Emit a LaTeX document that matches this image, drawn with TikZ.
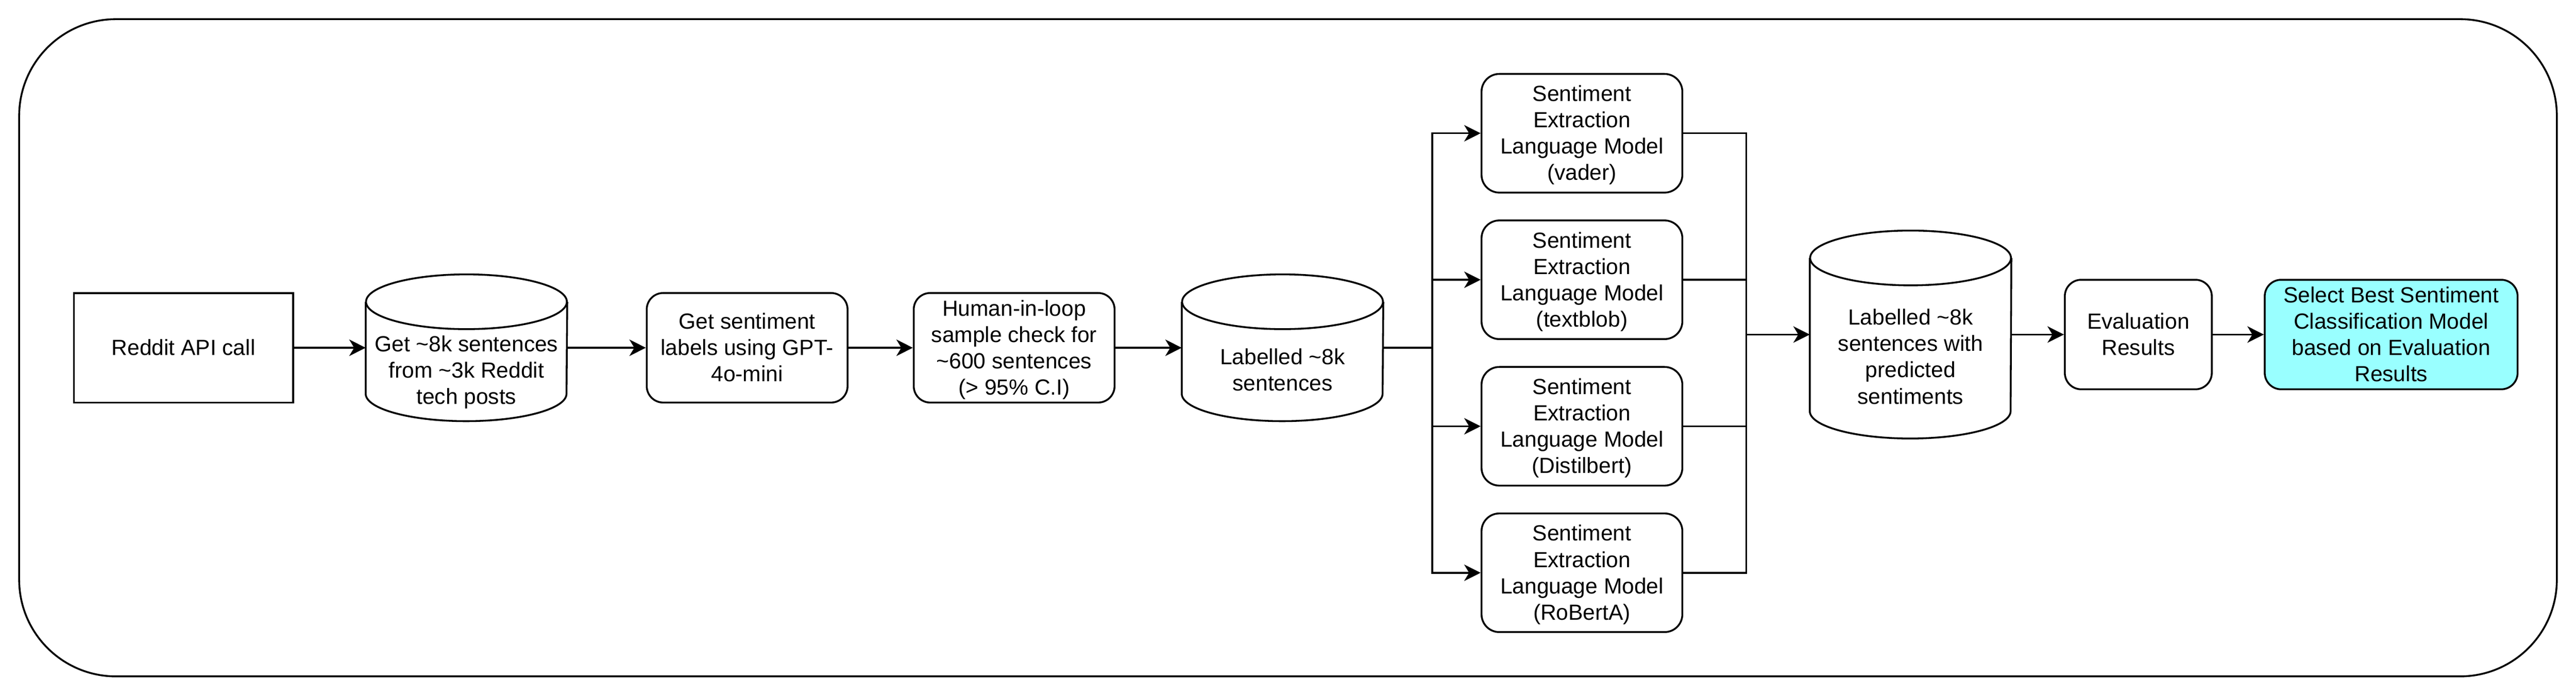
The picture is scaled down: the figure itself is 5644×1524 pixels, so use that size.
\documentclass[tikz,border=0pt]{standalone}
\usepackage{fontspec}
\setmainfont{Liberation Sans}
\usetikzlibrary{arrows.meta,calc}
\newcommand{\Ls}{\rule[-3.05pt]{0pt}{14.4pt}}
\newcommand{\drawcyl}[1]{%
  \draw[line width=1pt] ([yshift=-15pt]#1.north west) -- ([yshift=15pt]#1.south west)
    arc[start angle=180,end angle=360,x radius=55pt,y radius=15pt]
    -- ([yshift=-15pt]#1.north east);
  \draw[line width=1pt] ([yshift=-15pt]#1.north) ellipse[x radius=55pt,y radius=15pt];}
\definecolor{selfill}{HTML}{99FFFF}
\begin{document}
\begin{tikzpicture}[x=0.25pt,y=0.25pt,
  fnt/.style={font=\fontsize{12pt}{14.4pt}\selectfont},
  base/.style={fnt,draw,line width=1pt,inner sep=0pt,align=center},
  sqbox/.style={base,rectangle,minimum width=120pt,minimum height=60pt},
  rbox/.style={base,rectangle,rounded corners=9pt,minimum width=110pt,minimum height=60pt},
  sbox/.style={base,rectangle,rounded corners=9.75pt,minimum width=110pt,minimum height=65pt},
  cylbox/.style={rectangle,inner sep=0pt,minimum width=110pt},
  txt/.style={fnt,inner sep=0pt,align=center},
  flow/.style={line width=1pt,-{Stealth[length=9pt,width=9pt,inset=2.7pt]}},
  link/.style={line width=1pt},
]
\useasboundingbox (0,0) rectangle (5644,1524);
\node[draw,line width=1pt,rounded corners=53pt,minimum width=1390pt,minimum height=360pt] (frame) at (2822,762) {};

% main row
\node[sqbox] (reddit) at (402,762) {\Ls Reddit API call};
\node[cylbox,minimum height=80pt] (cyl1) at (1022,762) {};
\drawcyl{cyl1}
\node[txt] (cyl1t) at ([yshift=-12.25pt]cyl1.center) {\Ls Get \textasciitilde8k sentences\\\Ls from \textasciitilde3k Reddit\\\Ls tech posts};
\node[rbox] (get) at (1637,762) {\Ls Get sentiment\\\Ls labels using GPT-\\\Ls 4o-mini};
\node[rbox] (human) at (2222,762) {\Ls Human-in-loop\\\Ls sample check for\\\Ls \textasciitilde600 sentences\\\Ls (> 95\% C.I)};
\node[cylbox,minimum height=80pt] (cyl2) at (2810,762) {};
\drawcyl{cyl2}
\node[txt] (cyl2t) at ([yshift=-12.25pt]cyl2.center) {\Ls Labelled \textasciitilde8k\\\Ls sentences};

% models
\node[sbox] (s1) at (3466,1232) {\Ls Sentiment\\\Ls Extraction\\\Ls Language Model\\\Ls (vader)};
\node[sbox] (s2) at (3466,911) {\Ls Sentiment\\\Ls Extraction\\\Ls Language Model\\\Ls (textblob)};
\node[sbox] (s3) at (3466,590) {\Ls Sentiment\\\Ls Extraction\\\Ls Language Model\\\Ls (Distilbert)};
\node[sbox] (s4) at (3466,269) {\Ls Sentiment\\\Ls Extraction\\\Ls Language Model\\\Ls (RoBertA)};

% right part
\node[cylbox,minimum height=113.5pt] (cyl3) at (4186,791) {};
\drawcyl{cyl3}
\node[txt] (cyl3t) at ([yshift=-12.25pt]cyl3.center) {\Ls Labelled \textasciitilde8k\\\Ls sentences with\\\Ls predicted\\\Ls sentiments};
\node[rbox,minimum width=80.5pt] (eval) at (4685,791) {\Ls Evaluation\\\Ls Results};
\node[rbox,minimum width=138.5pt,fill=selfill] (select) at (5239,791) {\Ls Select Best Sentiment\\\Ls Classification Model\\\Ls based on Evaluation\\\Ls Results};

\coordinate (split) at (3138,762);
\coordinate (merge) at (3826,791);

% connectors
\draw[flow] (reddit.east) -- (cyl1.west);
\draw[flow] (cyl1.east) -- (get.west);
\draw[flow] (get.east) -- (human.west);
\draw[flow] (human.east) -- (cyl2.west);
\draw[link] (cyl2.east) -- (split);
\foreach \s in {s1,s2,s3,s4}{
  \draw[flow] (split) |- (\s.west);
  \draw[link] (\s.east) -| (merge);
}
\draw[flow] (merge) -- (cyl3.west);
\draw[flow] (cyl3.east) -- (eval.west);
\draw[flow] (eval.east) -- (select.west);
\end{tikzpicture}
\end{document}
